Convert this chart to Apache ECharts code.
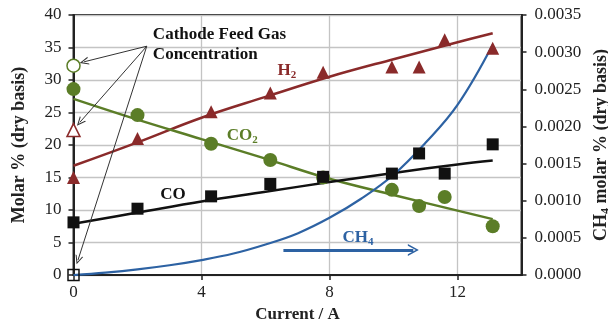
<!DOCTYPE html>
<html>
<head>
<meta charset="utf-8">
<script src="https://cdn.jsdelivr.net/npm/echarts@6/dist/echarts.min.js"></script>
<style>
  html, body { margin: 0; padding: 0; background: #ffffff; }
  #chart { width: 608px; height: 325px; }
</style>
</head>
<body>
<div id="chart"></div>
<script>
// Measured outlet composition vs. cell current
const current = [0, 2.0, 4.3, 6.15, 7.8, 9.95, 10.8, 11.6, 13.1];
const h2  = [15.0, 21.0, 25.1, 28.0, 31.2, 32.0, 32.0, 36.2, 34.9];
const co  = [8.1, 10.2, 12.1, 14.0, 15.1, 15.6, 18.7, 15.6, 20.1];
const co2 = [28.6, 24.6, 20.2, 17.7, 15.0, 13.1, 10.6, 12.0, 7.5];

// Cathode feed gas concentration (at 0 A)
const feedH2 = 22.3;
const feedCO2 = 32.2;
const feedCO = 0;

// Trend curves (molar %, left axis)
const trendX   = [0, 2, 4, 6, 8, 10, 12, 13.1];
const h2Trend  = [16.8, 20.4, 24.2, 27.4, 30.5, 33.2, 35.8, 37.2];
const co2Trend = [27.1, 23.9, 20.9, 17.9, 14.8, 12.3, 9.9, 8.6];
const coTrend  = [7.9, 9.6, 11.3, 12.8, 14.3, 15.7, 17.0, 17.6];

// CH4 curve (right axis)
const ch4X = [0, 1, 2, 3, 4, 5, 6, 7, 8, 9, 10, 11, 12, 13.1];
const ch4  = [0, 0.000033, 0.000076, 0.000131, 0.000201, 0.000289, 0.000411,
              0.00056, 0.00077, 0.00103, 0.00135, 0.00178, 0.00229, 0.0031];

// Axis ticks
const xTicks = { min: 0, max: 14, interval: 4 };
const yLeft  = { min: 0, max: 40, interval: 5 };
const yRight = { min: 0, max: 0.0035, interval: 0.0005 };

const FONT = '"Liberation Serif", "DejaVu Serif", serif';
const RED = '#8a2a2a';
const GREEN = '#5b7d27';
const BLUE = '#2d62a3';
const BLACK = '#111111';

const zip = (xs, ys) => xs.map((x, i) => [x, ys[i]]);

// thin open arrowhead, tip at top
const chevron = 'path://M5,0 L10,10 L8.6,10 L5,2.8 L1.4,10 L0,10 Z';

const chart = echarts.init(document.getElementById('chart'), null, { renderer: 'canvas' });

const tickLabel = { fontFamily: FONT, fontSize: 17, color: '#222' };

const option = {
  animation: false,
  backgroundColor: '#ffffff',
  grid: {
    left: 73.5, right: 86.5, top: 15, bottom: 50,
    containLabel: false, outerBoundsMode: 'none',
    show: true, borderColor: '#222', borderWidth: 2, backgroundColor: 'transparent'
  },
  xAxis: {
    type: 'value',
    min: xTicks.min, max: xTicks.max, interval: xTicks.interval,
    name: 'Current / A',
    nameLocation: 'middle', nameGap: 30,
    nameTextStyle: { fontFamily: FONT, fontSize: 17, fontWeight: 'bold', color: '#222' },
    axisLine: { show: true, lineStyle: { color: '#222', width: 2 } },
    axisTick: { show: true, length: 5, lineStyle: { color: '#222', width: 1.5 } },
    axisLabel: Object.assign({ margin: 9, showMaxLabel: false }, tickLabel),
    splitLine: { show: true, lineStyle: { color: '#c4c4c4', width: 1.3 } }
  },
  yAxis: [
    {
      type: 'value',
      min: yLeft.min, max: yLeft.max, interval: yLeft.interval,
      name: 'Molar % (dry basis)',
      nameLocation: 'middle', nameGap: 45, nameRotate: 90,
      nameTextStyle: { fontFamily: FONT, fontSize: 18, fontWeight: 'bold', color: '#222' },
      axisLine: { show: true, lineStyle: { color: '#222', width: 2 } },
      axisTick: { show: true, length: 5, lineStyle: { color: '#222', width: 1.5 } },
      axisLabel: Object.assign({ margin: 12 }, tickLabel),
      splitLine: { show: true, lineStyle: { color: '#c4c4c4', width: 1.3 } }
    },
    {
      type: 'value',
      position: 'right',
      min: yRight.min, max: yRight.max, interval: yRight.interval,
      name: '{n|CH}{s|4}{n| molar % (dry basis)}',
      nameLocation: 'middle', nameGap: 68, nameRotate: 90,
      nameTextStyle: {
        rich: {
          n: { fontFamily: FONT, fontSize: 18, fontWeight: 'bold', color: '#222', lineHeight: 22 },
          s: { fontFamily: FONT, fontSize: 12, fontWeight: 'bold', color: '#222', lineHeight: 22, verticalAlign: 'bottom' }
        }
      },
      axisLine: { show: true, lineStyle: { color: '#222', width: 2 } },
      axisTick: { show: true, length: 5, lineStyle: { color: '#222', width: 1.5 } },
      axisLabel: Object.assign({ margin: 13, formatter: v => v.toFixed(4) }, tickLabel),
      splitLine: { show: false }
    }
  ],
  series: [
    {
      name: 'H2 trend', type: 'line', smooth: 0.4, symbol: 'none',
      data: zip(trendX, h2Trend),
      lineStyle: { color: RED, width: 2.5 }, z: 2
    },
    {
      name: 'CO2 trend', type: 'line', smooth: 0.4, symbol: 'none',
      data: zip(trendX, co2Trend),
      lineStyle: { color: GREEN, width: 2.5 }, z: 2
    },
    {
      name: 'CO trend', type: 'line', smooth: 0.4, symbol: 'none',
      data: zip(trendX, coTrend),
      lineStyle: { color: BLACK, width: 2.5 }, z: 2
    },
    {
      name: 'CH4', type: 'line', yAxisIndex: 1, smooth: 0.4, symbol: 'none',
      data: zip(ch4X, ch4),
      lineStyle: { color: BLUE, width: 2.2 }, z: 4,
      markLine: {
        silent: true,
        symbol: ['none', chevron],
        symbolSize: [12, 11],
        lineStyle: { color: BLUE, width: 3, type: 'solid' },
        label: { show: false },
        data: [[{ coord: [6.56, 0.000337] }, { coord: [10.62, 0.000337] }]]
      }
    },
    {
      name: 'CO2', type: 'scatter', symbol: 'circle', symbolSize: 14,
      data: zip(current, co2),
      itemStyle: { color: GREEN, opacity: 1 }, z: 5
    },
    {
      name: 'H2', type: 'scatter', symbol: 'triangle', symbolSize: 13,
      data: zip(current, h2),
      itemStyle: { color: RED, opacity: 1 }, z: 5
    },
    {
      name: 'CO', type: 'scatter', symbol: 'rect', symbolSize: 12,
      data: zip(current, co),
      itemStyle: { color: BLACK, opacity: 1 }, z: 6
    },
    {
      name: 'Feed CO2', type: 'scatter', symbol: 'circle', symbolSize: 13,
      data: [[0, feedCO2]],
      itemStyle: { color: '#ffffff', borderColor: GREEN, borderWidth: 1.5, opacity: 1 }, z: 6
    },
    {
      name: 'Feed H2', type: 'scatter', symbol: 'triangle', symbolSize: 13,
      data: [[0, feedH2]],
      itemStyle: { color: '#ffffff', borderColor: RED, borderWidth: 1.5, opacity: 1 }, z: 6
    },
    {
      name: 'Feed CO', type: 'scatter', symbol: 'rect', symbolSize: 11,
      data: [[0, feedCO]],
      itemStyle: { color: 'rgba(255,255,255,0)', borderColor: BLACK, borderWidth: 1.5, opacity: 1 }, z: 7,
      markLine: {
        silent: true,
        symbol: ['none', chevron],
        symbolSize: [8, 9],
        lineStyle: { color: '#333', width: 1, type: 'solid' },
        label: { show: false },
        data: [
          [{ coord: [2.29, 35.2] }, { coord: [0.33, 32.8] }],
          [{ coord: [2.29, 35.2] }, { coord: [0.2, 23.5] }],
          [{ coord: [2.29, 35.2] }, { coord: [0.14, 2.3] }]
        ]
      }
    }
  ]
};

chart.setOption(option);

// Text annotations placed in data coordinates
const px = (x, y) => chart.convertToPixel({ gridIndex: 0 }, [x, y]);
const boldRich = (color) => ({
  n: { fontFamily: FONT, fontSize: 17, fontWeight: 'bold', fill: color, lineHeight: 20 },
  s: { fontFamily: FONT, fontSize: 11, fontWeight: 'bold', fill: color, lineHeight: 20, verticalAlign: 'bottom' }
});
const label = (text, x, y, color) => {
  const p = px(x, y);
  return {
    type: 'text', x: p[0], y: p[1], z: 20, silent: true,
    style: { text, rich: boldRich(color), align: 'center', verticalAlign: 'middle' }
  };
};
const feedPos = px(2.48, 35.4);

chart.setOption({
  graphic: [
    label('{n|H}{s|2}', 6.67, 31.5, RED),
    label('{n|CO}{s|2}', 5.27, 21.5, GREEN),
    label('{n|CO}', 3.11, 12.3, BLACK),
    label('{n|CH}{s|4}', 8.89, 5.7, BLUE),
    {
      type: 'text', x: feedPos[0], y: feedPos[1], z: 20, silent: true,
      style: {
        text: 'Cathode Feed Gas\nConcentration',
        fontFamily: FONT, fontSize: 17, fontWeight: 'bold', fill: '#111',
        lineHeight: 20, align: 'left', verticalAlign: 'middle'
      }
    }
  ]
});
</script>
</body>
</html>
